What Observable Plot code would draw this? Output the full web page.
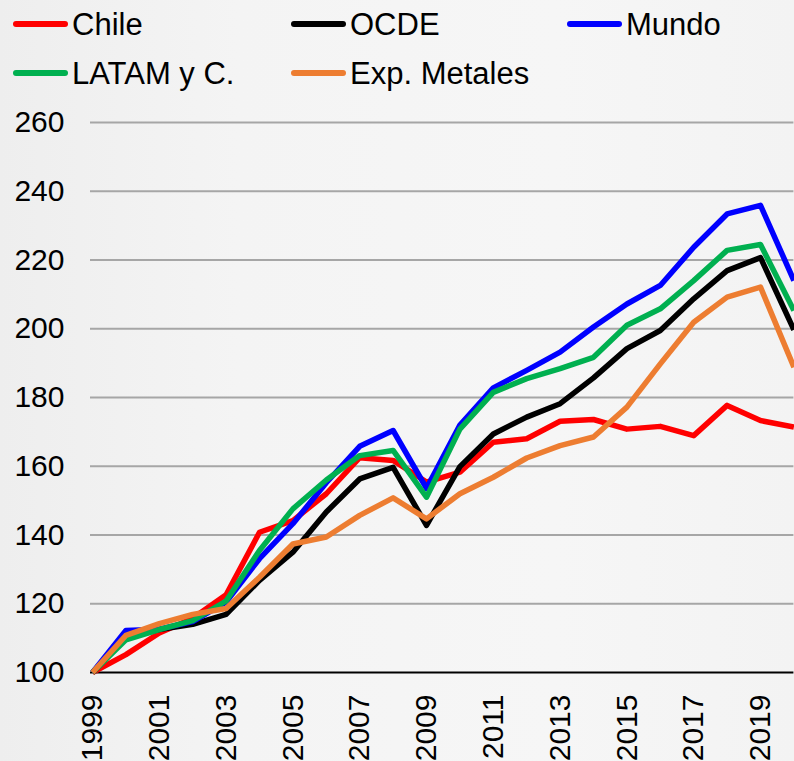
<!DOCTYPE html>
<html>
<head>
<meta charset="utf-8">
<script src="https://cdn.jsdelivr.net/npm/d3@7"></script>
<script src="https://cdn.jsdelivr.net/npm/@observablehq/plot@0.6"></script>
<style>
  html, body { margin: 0; padding: 0; }
  body { width: 794px; height: 761px; overflow: hidden; background: linear-gradient(90deg, #eeeeee 0%, #f4f4f4 30%, #f6f6f6 70%, #f3f3f3 100%); font-family: "Liberation Sans", Arial, sans-serif; }
  #legend { position: relative; width: 794px; height: 105px; }
  .sw { position: absolute; width: 55px; height: 6px; border-radius: 3px; }
  .lb { position: absolute; font-size: 31px; line-height: 31px; color: #000; white-space: nowrap; }
  #chart svg { display: block; overflow: visible; }
</style>
</head>
<body>
<div id="legend"></div>
<div id="chart"></div>
<script>
const years = d3.range(1999, 2021);
const seriesNames = ["Chile", "OCDE", "Mundo", "LATAM y C.", "Exp. Metales"];
const seriesColors = ["#ff0000", "#000000", "#0000ff", "#00b050", "#ed7d31"];
const chile   = [100, 105.2, 111.5, 115.8, 122.6, 140.8, 144.2, 152.0, 162.5, 161.7, 155.4, 158.3, 167.0, 168.0, 173.1, 173.6, 170.8, 171.6, 168.9, 177.7, 173.3, 171.4];
const ocde    = [100, 110.3, 112.5, 114.0, 116.9, 126.8, 135.0, 146.7, 156.3, 159.7, 142.8, 159.9, 169.4, 174.3, 178.2, 185.7, 194.2, 199.5, 208.7, 216.9, 220.7, 199.7];
const mundo   = [100, 112.2, 112.6, 114.8, 120.5, 133.1, 143.3, 155.2, 165.8, 170.4, 153.6, 172.0, 182.8, 187.9, 193.2, 200.5, 207.2, 212.6, 223.7, 233.4, 235.9, 214.0];
const latam   = [100, 109.5, 112.5, 115.1, 120.8, 135.5, 147.6, 156.0, 163.1, 164.6, 151.0, 170.8, 181.5, 185.5, 188.4, 191.7, 201.0, 205.8, 214.0, 222.8, 224.5, 205.3];
const metales = [100, 110.8, 114.2, 116.9, 118.6, 127.7, 137.4, 139.4, 145.7, 150.8, 144.7, 152.0, 156.8, 162.4, 166.0, 168.5, 177.2, 189.8, 201.9, 209.2, 212.1, 188.8];
const yTicks = [100, 120, 140, 160, 180, 200, 220, 240, 260];
const xTicks = d3.range(1999, 2021, 2);

const allSeries = [chile, ocde, mundo, latam, metales];
const data = [];
allSeries.forEach((vals, i) => vals.forEach((v, j) => data.push({serie: seriesNames[i], year: years[j], value: v})));

// Legend
const legendPos = [[13, 24], [291, 24], [567, 24], [13, 73], [291, 73]];
const leg = document.getElementById("legend");
seriesNames.forEach((name, i) => {
  const [x, y] = legendPos[i];
  const sw = document.createElement("div");
  sw.className = "sw";
  sw.style.left = x + "px";
  sw.style.top = (y - 3) + "px";
  sw.style.background = seriesColors[i];
  leg.appendChild(sw);
  const lb = document.createElement("span");
  lb.className = "lb";
  lb.textContent = name;
  lb.style.left = (x + 59) + "px";
  lb.style.top = (y - 15) + "px";
  leg.appendChild(lb);
});

const chart = Plot.plot({
  width: 794,
  height: 656,
  marginLeft: 92,
  marginRight: 0.6,
  marginTop: 17,
  marginBottom: 89,
  style: { background: "transparent", fontFamily: "Liberation Sans, Arial, sans-serif", fontSize: "30px", color: "#000", overflow: "visible" },
  x: { domain: [1999, 2020] },
  y: { domain: [100, 260] },
  color: { domain: seriesNames, range: seriesColors },
  marks: [
    Plot.ruleY(yTicks.filter(d => d > 100), { stroke: "#a6a6a6", strokeWidth: 2, insetLeft: -2 }),
    Plot.ruleY([100], { stroke: "#000", strokeWidth: 2, insetLeft: -2 }),
    Plot.axisY({ ticks: yTicks, tickSize: 0, tickPadding: 28, fontSize: 30, label: null }),
    Plot.axisX({ ticks: xTicks, tickFormat: d => String(d), tickRotate: -90, tickSize: 0, tickPadding: 22, fontSize: 30, label: null }),
    Plot.line(data, { x: "year", y: "value", z: "serie", stroke: "serie", strokeWidth: 5.5, strokeLinejoin: "round", strokeLinecap: "butt" })
  ]
});
document.getElementById("chart").appendChild(chart);
</script>
</body>
</html>
